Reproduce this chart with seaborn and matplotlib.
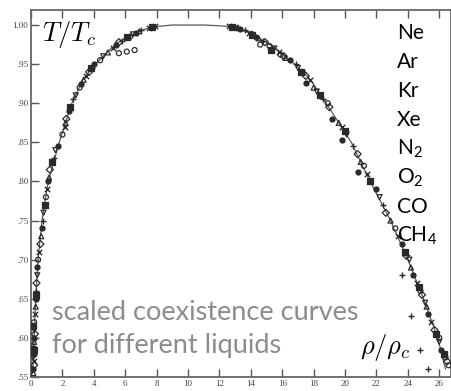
import matplotlib
matplotlib.use("Agg")
import matplotlib.pyplot as plt
import seaborn as sns
import pandas as pd

# ---- data (rho/rho_c scaled x10, T/Tc) ----
curve_rho = [0.1, 0.2, 0.3, 0.45, 0.7, 1.1, 1.8, 2.6, 3.3, 4.1, 5.1, 5.7, 6.7, 7.3, 8.0,
             9.0, 10.0, 11.0, 12.0, 12.6, 13.2, 13.9, 14.8, 15.6, 16.8, 17.8, 18.8,
             20.4, 21.6, 22.9, 24.0, 25.0, 25.9, 26.4]
curve_T = [0.555, 0.60, 0.65, 0.70, 0.75, 0.80, 0.85, 0.90, 0.93, 0.95, 0.97, 0.98, 0.99,
           0.995, 0.998, 1.0, 1.0, 1.0, 0.999, 0.998, 0.995, 0.99, 0.98, 0.97, 0.95, 0.93,
           0.90, 0.85, 0.80, 0.75, 0.70, 0.65, 0.60, 0.56]

ne_T = [0.62, 0.70, 0.78, 0.86, 0.92, 0.955, 0.964, 0.966, 0.968, 0.985,
        0.975, 0.973, 0.962, 0.94, 0.90, 0.82, 0.74, 0.66, 0.60, 0.575, 0.565]
ne_rho = [0.2, 0.45, 0.95, 2.0, 3.1, 4.4, 5.6, 6.1, 6.6, 6.3,
          14.6, 15.2, 15.9, 17.3, 18.9, 21.2, 23.2, 24.8, 26.0, 26.4, 26.6]

ar_T = [0.56, 0.58, 0.60, 0.65, 0.69, 0.74, 0.80, 0.845, 0.89, 0.925, 0.95, 0.975, 0.99,
        0.995, 0.985, 0.955, 0.926, 0.88, 0.853, 0.812, 0.79, 0.72, 0.68, 0.63, 0.585]
ar_rho = [0.15, 0.2, 0.2, 0.3, 0.4, 0.7, 1.1, 1.7, 2.4, 3.2, 4.0, 5.4, 6.7,
          13.3, 14.3, 16.5, 17.5, 19.2, 19.8, 20.8, 22.0, 23.6, 24.3, 25.3, 26.1]

kr_T = [0.57, 0.63, 0.71, 0.79, 0.87, 0.935, 0.97, 0.996, 0.999,
        0.999, 0.998, 0.99, 0.965, 0.93, 0.87, 0.81, 0.73, 0.67, 0.62]
kr_rho = [0.2, 0.25, 0.5, 1.0, 2.15, 3.5, 5.2, 7.5, 7.9,
          12.6, 13.0, 13.9, 15.8, 17.8, 19.8, 21.4, 23.4, 24.6, 25.5]

xe_T = [0.59, 0.66, 0.75, 0.83, 0.905, 0.945, 0.98, 0.993,
        0.993, 0.98, 0.95, 0.905, 0.845, 0.77, 0.68, 0.628, 0.585, 0.56]
xe_rho = [0.15, 0.35, 0.75, 1.45, 2.7, 3.9, 5.8, 7.0,
          13.6, 14.8, 16.9, 18.6, 20.5, 22.4, 23.6, 24.2, 24.8, 25.3]

n2_T = [0.575, 0.61, 0.68, 0.76, 0.84, 0.91, 0.96, 0.988,
        0.988, 0.97, 0.945, 0.915, 0.86, 0.78, 0.70, 0.645, 0.595]
n2_rho = [0.15, 0.2, 0.4, 0.8, 1.55, 2.85, 4.6, 6.5,
          14.0, 15.5, 17.0, 18.2, 20.1, 22.2, 24.1, 25.1, 26.0]

o2_T = [0.565, 0.605, 0.67, 0.72, 0.815, 0.88, 0.94, 0.978,
        0.978, 0.96, 0.935, 0.895, 0.835, 0.76, 0.705, 0.655, 0.61, 0.57]
o2_rho = [0.2, 0.25, 0.35, 0.6, 1.2, 2.25, 3.7, 5.6,
          14.9, 16.1, 17.5, 19.0, 20.8, 22.6, 23.9, 24.9, 25.7, 26.5]

co_T = [0.555, 0.595, 0.64, 0.73, 0.805, 0.875, 0.93, 0.965, 0.992,
        0.996, 0.983, 0.958, 0.92, 0.875, 0.825, 0.75, 0.69, 0.64]
co_rho = [0.15, 0.2, 0.3, 0.65, 1.15, 2.2, 3.35, 4.9, 6.9,
          13.2, 14.5, 16.2, 18.0, 19.6, 21.0, 22.9, 24.2, 25.2]

ch4_T = [0.585, 0.615, 0.655, 0.77, 0.825, 0.895, 0.945, 0.985, 0.997,
         0.997, 0.987, 0.968, 0.94, 0.91, 0.865, 0.80, 0.71, 0.665, 0.605, 0.58]
ch4_rho = [0.2, 0.15, 0.3, 0.9, 1.35, 2.5, 3.85, 6.1, 7.7,
           12.8, 14.1, 15.3, 17.2, 18.4, 20.0, 21.6, 23.8, 24.7, 25.8, 26.3]

fluids = ["Ne", "Ar", "Kr", "Xe", "N$_2$", "O$_2$", "CO", "CH$_4$"]
x_ticks = [0, 2, 4, 6, 8, 10, 12, 14, 16, 18, 20, 22, 24, 26]
x_ticklabels = ["0", "2", "4", "6", "8", "10", "12", "14", "16", "18", "20", "22", "24", "26"]
y_ticks = [0.55, 0.60, 0.65, 0.70, 0.75, 0.80, 0.85, 0.90, 0.95, 1.00]
y_ticklabels = [".55", ".60", ".65", ".70", ".75", ".80", ".85", ".90", ".95", "1.00"]

sns.set_style("white")
plt.rcParams["font.family"] = ["Lato", "DejaVu Sans"]
plt.rcParams["mathtext.fontset"] = "custom"
plt.rcParams["mathtext.rm"] = "Lato"
plt.rcParams["mathtext.it"] = "Lato:italic"

W, H = 452, 391
fig = plt.figure(figsize=(W / 100, H / 100), dpi=100)
fig.patch.set_facecolor("white")
ax = fig.add_axes([31 / W, 14 / H, (451 - 31) / W, (381 - 14) / H])

ink = "#2a2a2a"
sns.lineplot(x=curve_rho, y=curve_T, sort=False, color="#5a5a5a", lw=0.9, ax=ax)

series = [
    (ne_rho, ne_T, "o", "none"),
    (ar_rho, ar_T, "o", ink),
    (kr_rho, kr_T, "x", ink),
    (xe_rho, xe_T, "+", ink),
    (n2_rho, n2_T, "v", "none"),
    (o2_rho, o2_T, "D", "none"),
    (co_rho, co_T, "^", "none"),
    (ch4_rho, ch4_T, "s", ink),
]
for xs, ys, m, fc in series:
    if m in ("x", "+"):
        sns.scatterplot(x=xs, y=ys, marker=m, s=15, color=ink, linewidth=1.0, ax=ax, zorder=3)
    else:
        sns.scatterplot(x=xs, y=ys, marker=m, s=13, facecolor=fc, edgecolor=ink,
                        linewidth=0.9, ax=ax, zorder=3)

ax.set_xlim(0, 26.75)
ax.set_ylim(0.55, 1.0192)
ax.set_xticks(x_ticks)
ax.set_xticklabels(x_ticklabels)
ax.set_yticks(y_ticks)
ax.set_yticklabels(y_ticklabels)
ax.tick_params(direction="in", top=True, bottom=True, left=True, right=False,
               length=6, width=1.0, color="#555555", labelsize=6.5, labelcolor="#444444", pad=2)
for lab in ax.get_xticklabels() + ax.get_yticklabels():
    lab.set_family("Liberation Serif")
for sp in ax.spines.values():
    sp.set_color("#666666")
    sp.set_linewidth(1.3)
ax.set_xlabel("")
ax.set_ylabel("")

def fx(px):
    return px / W

def fy(px):
    return 1 - px / H

fig.text(fx(42), fy(41), r"$T/T_c$", fontsize=19, math_fontfamily="cm", color="black",
         ha="left", va="baseline")
fig.text(fx(360), fy(354), r"$\rho/\rho_c$", fontsize=19, math_fontfamily="cm", color="black",
         ha="left", va="baseline")

for i, name in enumerate(fluids):
    fig.text(fx(397), fy(39 + 29 * i), name, fontsize=15, color="black",
             ha="left", va="baseline", math_fontfamily="custom")

fig.text(fx(52), fy(320), "scaled coexistence curves", fontsize=19.5, color="#8c8c8c",
         ha="left", va="baseline")
fig.text(fx(52), fy(353), "for different liquids", fontsize=19.5, color="#8c8c8c",
         ha="left", va="baseline")

fig.savefig("out.png", dpi=100, facecolor="white")
